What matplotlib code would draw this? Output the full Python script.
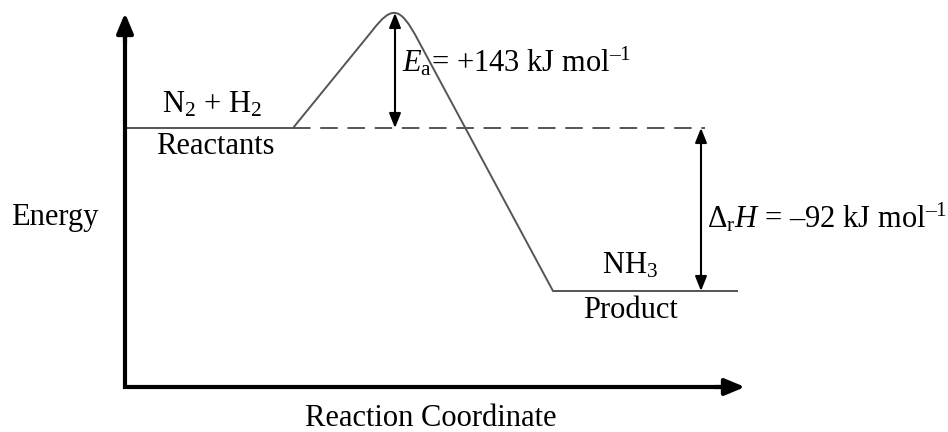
import matplotlib.pyplot as plt
from matplotlib.path import Path
from matplotlib.patches import PathPatch

plt.rcParams['font.family'] = ['Liberation Serif', 'DejaVu Serif']
plt.rcParams['mathtext.fontset'] = 'custom'
plt.rcParams['mathtext.rm'] = 'Liberation Serif'
plt.rcParams['mathtext.it'] = 'Liberation Serif:italic'

# diagram coordinates (schematic, y grows downward like the drawing)
axis_origin = (125, 387)
axis_ends = (745, 13)
reactant_x = [125, 293]
reactant_y = 128
peak_x, peak_y = 395, 13
product_x = [553, 738]
product_y = 291
dH_arrow_x = 701
ea_text = r'$E_{\mathrm{a}}$= +143 kJ mol$^{\mathregular{–1}}$'
dh_text = r'$\Delta_{\mathrm{r}}H$ = –92 kJ mol$^{\mathregular{–1}}$'

fig = plt.figure(figsize=(9.48, 4.32), dpi=100)
ax = fig.add_axes([0, 0, 1, 1])
ax.set_xlim(0, 948)
ax.set_ylim(432, 0)
ax.axis('off')

line_c = '#555555'
fs = 22

# axes (L shape) and arrowheads
ax.plot([axis_origin[0], axis_origin[0], axis_ends[0] - 12],
        [axis_ends[1] + 12, axis_origin[1], axis_origin[1]],
        color='black', lw=3, solid_joinstyle='miter', solid_capstyle='butt')
big_head = '-|>,head_length=0.6,head_width=0.25'
ax.annotate('', xy=(axis_origin[0], axis_ends[1]), xytext=(axis_origin[0], axis_ends[1] + 30),
            arrowprops=dict(arrowstyle=big_head, lw=3, color='black', mutation_scale=20,
                            shrinkA=0, shrinkB=0))
ax.annotate('', xy=(axis_ends[0], axis_origin[1]), xytext=(axis_ends[0] - 30, axis_origin[1]),
            arrowprops=dict(arrowstyle=big_head, lw=3, color='black', mutation_scale=20,
                            shrinkA=0, shrinkB=0))

# energy profile
verts = [(reactant_x[0], reactant_y), (reactant_x[1], reactant_y),
         (peak_x - 23, 31),
         (peak_x - 3, 5), (peak_x + 5, 6), (peak_x + 23, 40),
         (product_x[0], product_y), (product_x[1], product_y)]
codes = [Path.MOVETO, Path.LINETO, Path.LINETO,
         Path.CURVE4, Path.CURVE4, Path.CURVE4,
         Path.LINETO, Path.LINETO]
ax.add_patch(PathPatch(Path(verts, codes), fill=False, edgecolor=line_c, lw=1.4))

# dashed reactant level
ax.plot([reactant_x[1], dH_arrow_x + 4], [reactant_y, reactant_y], color=line_c, lw=1.4,
        dashes=(9, 5))

# double arrows
small_head = '<|-|>,head_length=0.55,head_width=0.22'
ax.annotate('', xy=(peak_x, peak_y), xytext=(peak_x, reactant_y),
            arrowprops=dict(arrowstyle=small_head, lw=1.5, color='black', mutation_scale=16,
                            shrinkA=0, shrinkB=0))
ax.annotate('', xy=(dH_arrow_x, reactant_y), xytext=(dH_arrow_x, product_y),
            arrowprops=dict(arrowstyle=small_head, lw=1.5, color='black', mutation_scale=16,
                            shrinkA=0, shrinkB=0))

# labels
ax.text(212, 105, r'N$_{\mathregular{2}}$ + H$_{\mathregular{2}}$', fontsize=fs, ha='center', va='center')
ax.text(215, 147, 'Reactants', fontsize=fs, ha='center', va='center')
ax.text(630, 266, r'NH$_{\mathregular{3}}$', fontsize=fs, ha='center', va='center')
ax.text(630, 310, 'Product', fontsize=fs, ha='center', va='center')
ax.text(402, 62, ea_text, fontsize=fs, ha='left', va='center')
ax.text(707, 218, dh_text, fontsize=fs, ha='left', va='center')
ax.text(55, 218, 'Energy', fontsize=fs, ha='center', va='center')
ax.text(431, 418, 'Reaction Coordinate', fontsize=fs, ha='center', va='center')

fig.savefig('out.png', dpi=100)
